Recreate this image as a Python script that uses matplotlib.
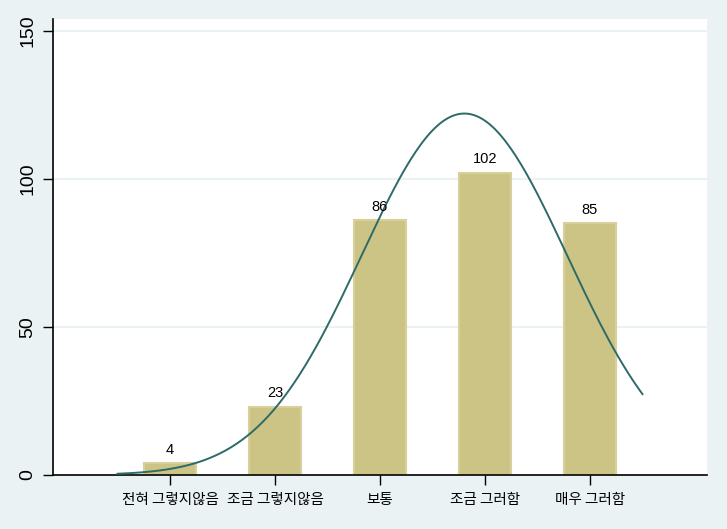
import numpy as np
import matplotlib.pyplot as plt

plt.rcParams['font.family'] = ['Liberation Sans', 'Noto Sans CJK KR', 'DejaVu Sans']

categories = ['전혀 그렇지않음', '조금 그렇지않음', '보통', '조금 그러함', '매우 그러함']
codes = [1, 2, 3, 4, 5]
counts = [4, 23, 86, 102, 85]
yticks = [0, 50, 100, 150]

bg = '#EAF2F3'
bar_col = '#CCC485'
line_col = '#2E6A68'

# normal curve fitted to the grouped data (like Stata's histogram, normal)
x = np.array(codes, float)
f = np.array(counts, float)
n = f.sum()
mu = (x * f).sum() / n
sd = np.sqrt(((x - mu) ** 2 * f).sum() / (n - 1))
xs = np.linspace(0.5, 5.5, 200)
ys = n / (sd * np.sqrt(2 * np.pi)) * np.exp(-0.5 * ((xs - mu) / sd) ** 2)

fig = plt.figure(figsize=(7.27, 5.29), dpi=100, facecolor=bg)
ax = fig.add_axes([53/727, 54/529, 654/727, 456/529])
ax.set_facecolor('white')

ax.bar(codes, counts, width=0.5, color=bar_col, edgecolor='#D8D09A', linewidth=1.5, zorder=2)
for c, v in zip(codes, counts):
    ax.text(c, v + 2.2, str(v), ha='center', va='bottom', fontsize=10.5, color='black', zorder=4)
ax.plot(xs, ys, color=line_col, linewidth=1.4, zorder=3)

ax.set_xlim(1 - 117/105, 5 + 117/105)
ax.set_ylim(0, 154)
ax.set_yticks(yticks)
ax.set_yticklabels([str(t) for t in yticks], rotation=90, va='center', fontsize=14)
ax.set_xticks(codes)
ax.set_xticklabels(categories, fontsize=10.5, family=['Noto Sans CJK KR', 'DejaVu Sans'])
ax.tick_params(axis='both', direction='out', length=7, width=1, color='black')
ax.tick_params(axis='y', pad=5)
ax.tick_params(axis='x', pad=6)
for g in yticks[1:]:
    ax.axhline(g, color=bg, linewidth=1.5, zorder=1)
for s in ['top', 'right']:
    ax.spines[s].set_visible(False)
for s in ['left', 'bottom']:
    ax.spines[s].set_color('black')
    ax.spines[s].set_linewidth(1.2)

fig.savefig('out.png', dpi=100, facecolor=bg)
